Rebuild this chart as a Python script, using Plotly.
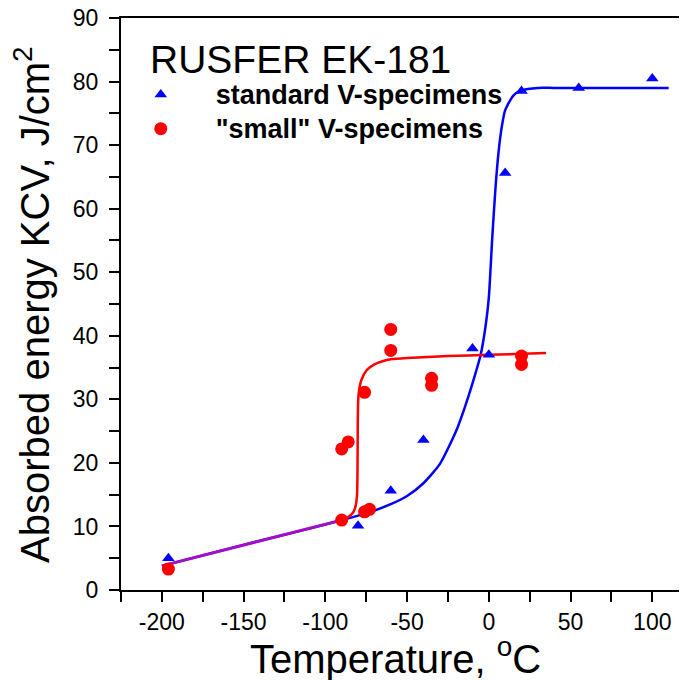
import plotly.graph_objects as go

# measured points
std_t = [-196, -80, -60, -40, -10, 0, 10, 20, 55, 100]
std_kcv = [5.0, 10.1, 15.6, 23.6, 38.0, 37.0, 65.6, 78.5, 79.0, 80.5]

small_t = [-196, -90, -86, -90, -76, -76, -73, -60, -60, -35, -35, 20, 20]
small_kcv = [3.3, 22.2, 23.3, 11.0, 31.1, 12.3, 12.7, 41.0, 37.7, 33.3, 32.2, 36.8, 35.5]

# fitted curves
std_fit_t = [-200, -150, -100, -90, -80, -70, -60, -50, -40, -30, -20, -15, -10, -5,
             -2, 0, 2, 4, 6, 8, 10, 15, 20, 30, 40, 110]
std_fit_kcv = [3.8, 7.1, 10.3, 11.0, 11.7, 12.5, 13.5, 14.8, 16.8, 19.8, 25.0, 28.5, 32.5, 37.0,
               41.5, 46.0, 55.0, 63.0, 69.0, 73.0, 75.5, 77.8, 78.6, 79.0, 79.0, 79.0]

small_fit_t = [-90, -86, -83, -81.5, -80.6, -80.3, -80.2, -80.0, -79.6, -78, -75, -70, -65,
               -60, -50, -25, 0, 35]
small_fit_kcv = [11.0, 11.5, 12.2, 13.2, 15.0, 20.0, 25.0, 29.0, 31.0, 33.0, 34.5, 35.5, 36.0,
                 36.3, 36.5, 36.8, 37.0, 37.3]

shelf_t = [-200, -90]
shelf_kcv = [3.8, 11.0]

x_ticks = [-200, -150, -100, -50, 0, 50, 100]
x_ticktext = ["-200", "-150", "-100", "-50", "0", "50", "100"]

FONT = "Arial, Liberation Sans, sans-serif"

fig = go.Figure()

fig.add_trace(go.Scatter(
    x=std_fit_t, y=std_fit_kcv, mode="lines", showlegend=False,
    line=dict(color="#0000FF", width=2.5, shape="spline", smoothing=0.6),
))
fig.add_trace(go.Scatter(
    x=small_fit_t, y=small_fit_kcv, mode="lines", showlegend=False,
    line=dict(color="#FF0000", width=2.5, shape="spline", smoothing=0.6),
))
fig.add_trace(go.Scatter(
    x=shelf_t, y=shelf_kcv, mode="lines", showlegend=False,
    line=dict(color="#A010C8", width=3),
))

fig.add_trace(go.Scatter(
    x=std_t, y=std_kcv, mode="markers",
    name='<span style="font-size:27px"><b>standard V-specimens</b></span>',
    marker=dict(symbol="triangle-up", size=11, color="#0000FF"),
))
fig.add_trace(go.Scatter(
    x=small_t, y=small_kcv, mode="markers",
    name='<span style="font-size:27px"><b>"small" V-specimens</b></span>',
    marker=dict(symbol="circle", size=13, color="#FF0000"),
))

fig.add_annotation(
    text="RUSFER EK-181", xref="paper", yref="paper", x=0.047, y=0.928,
    xanchor="left", yanchor="middle", showarrow=False,
    font=dict(family=FONT, size=39, color="black"),
)
# axis titles as annotations so they sit where the original puts them
fig.add_annotation(
    text="Temperature, <sup>o</sup>C", xref="paper", yref="paper", x=0.486, y=-0.116,
    xanchor="center", yanchor="middle", showarrow=False,
    font=dict(family=FONT, size=40, color="black"),
)
fig.add_annotation(
    text="Absorbed energy KCV, J/cm<sup>2</sup>", xref="paper", yref="paper",
    x=-0.158, y=0.5, xanchor="center", yanchor="middle", textangle=-90, showarrow=False,
    font=dict(family=FONT, size=40, color="black"),
)

# page body adds an 8px offset, so the figure is 8px smaller than the window
fig.update_layout(
    width=679, height=672,
    margin=dict(l=113, r=2, t=10, b=90),
    paper_bgcolor="white", plot_bgcolor="white",
    font=dict(family=FONT, color="black"),
    legend=dict(
        x=-0.027, y=0.905, xanchor="left", yanchor="top",
        itemwidth=100, font=dict(family=FONT, size=24, color="black"),
        bgcolor="rgba(0,0,0,0)", tracegroupgap=0,
    ),
    xaxis=dict(
        range=[-225, 120], tickvals=x_ticks, ticktext=x_ticktext,
        ticks="outside", ticklen=10, tickwidth=1.5, tickcolor="black",
        minor=dict(dtick=25, tick0=0, ticks="outside", ticklen=10, tickwidth=1.5, tickcolor="black"),
        showline=True, linecolor="black", linewidth=2, mirror=True,
        showgrid=False, zeroline=False, automargin=False,
        tickfont=dict(family=FONT, size=23), ticklabeloverflow="allow",
    ),
    yaxis=dict(
        range=[0, 90], dtick=10,
        ticks="outside", ticklen=10, tickwidth=1.5, tickcolor="black",
        minor=dict(dtick=5, ticks="outside", ticklen=10, tickwidth=1.5, tickcolor="black"),
        showline=True, linecolor="black", linewidth=2, mirror=True,
        showgrid=False, zeroline=False, automargin=False,
        tickfont=dict(family=FONT, size=23), ticklabelstandoff=6, ticklabeloverflow="allow",
    ),
)

fig.write_html("out.html")
